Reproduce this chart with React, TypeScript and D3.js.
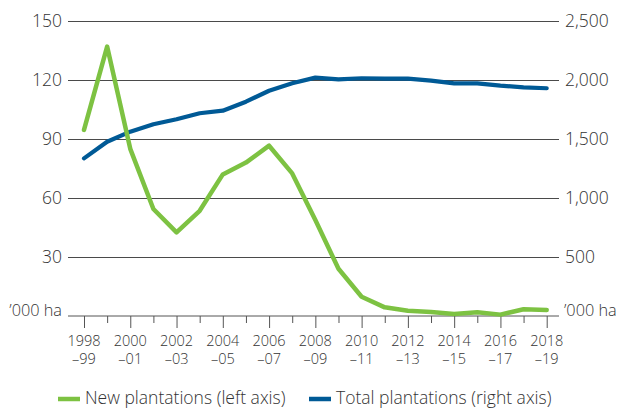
import * as d3 from 'd3';
import React, { useRef, useEffect } from 'react';

const seasons = [
  "1998", "1999", "2000", "2001", "2002", "2003", "2004", "2005", "2006", "2007",
  "2008", "2009", "2010", "2011", "2012", "2013", "2014", "2015", "2016", "2017", "2018",
];
const seasonEnds = [
  "99", "00", "01", "02", "03", "04", "05", "06", "07", "08",
  "09", "10", "11", "12", "13", "14", "15", "16", "17", "18", "19",
];
// '000 ha, left axis
const newPlantations = [
  94.6, 137, 85, 54.4, 42.5, 53.5, 72, 78, 86.6, 72.5,
  48.8, 24, 9.8, 4.4, 2.7, 2, 1, 1.9, 0.7, 3.4, 3.1,
];
// '000 ha, right axis
const totalPlantations = [
  1336, 1477, 1562, 1625, 1667, 1718, 1740, 1816, 1909, 1972,
  2020, 2006, 2015, 2011, 2011, 1995, 1972, 1972, 1952, 1938, 1930,
];
const leftTicks = [30, 60, 90, 120, 150];
const rightTicks = [500, 1000, 1500, 2000, 2500];

const GREEN = "#7dc242";
const BLUE = "#005a96";
const FONT = "'Open Sans', sans-serif";

function App() {
  const ref = useRef(null);

  useEffect(() => {
    document.body.style.margin = "0";

    const width = 618;
    const height = 408;
    const plot = { left: 68, right: 559, top: 21, bottom: 316 };

    const x = d3.scaleLinear()
      .domain([0, seasons.length - 1])
      .range([84, 546.7]);
    const yL = d3.scaleLinear().domain([0, 150]).range([plot.bottom, plot.top]);
    const yR = d3.scaleLinear().domain([0, 2500]).range([plot.bottom, plot.top]);

    const svg = d3.select(ref.current)
      .attr("viewBox", "0 0 " + width + " " + height)
      .attr("width", width)
      .attr("height", height);
    svg.selectAll("*").remove();

    // left axis + gridlines
    const gl = svg.append("g")
      .attr("transform", "translate(" + plot.left + ",0)")
      .call(d3.axisLeft(yL).tickValues(leftTicks).tickSize(-(plot.right - plot.left)).tickPadding(6));
    gl.select(".domain").remove();
    gl.selectAll(".tick line").attr("stroke", "#4a4a4a");
    gl.selectAll(".tick text")
      .attr("font-family", FONT).attr("font-size", 17.5).attr("font-weight", 300).attr("fill", "#333");

    // right axis labels
    const gr = svg.append("g")
      .attr("transform", "translate(" + plot.right + ",0)")
      .call(d3.axisRight(yR).tickValues(rightTicks).tickSize(0).tickPadding(6).tickFormat(d3.format(",")));
    gr.select(".domain").remove();
    gr.selectAll(".tick text")
      .attr("font-family", FONT).attr("font-size", 17.5).attr("font-weight", 300).attr("fill", "#333");

    // unit labels
    svg.append("text")
      .attr("x", plot.left - 6).attr("y", plot.bottom)
      .attr("text-anchor", "end")
      .attr("font-family", FONT).attr("font-size", 16.3).attr("font-weight", 300).attr("fill", "#333")
      .text("\u2019000 ha");
    svg.append("text")
      .attr("x", plot.right + 5).attr("y", plot.bottom)
      .attr("font-family", FONT).attr("font-size", 16.3).attr("font-weight", 300).attr("fill", "#333")
      .text("\u2019000 ha");

    // bottom axis
    svg.append("line")
      .attr("x1", plot.left).attr("x2", plot.right)
      .attr("y1", plot.bottom).attr("y2", plot.bottom)
      .attr("stroke", "#555");
    const gx = svg.append("g")
      .attr("transform", "translate(0," + plot.bottom + ")")
      .call(d3.axisBottom(x).tickValues(d3.range(seasons.length)).tickSize(12).tickFormat(() => ""));
    gx.select(".domain").remove();
    gx.selectAll(".tick line")
      .attr("stroke", "#555")
      .attr("y2", (d: any) => (d % 2 === 0 ? 12 : 7));
    gx.selectAll(".tick text").remove();

    const labels = svg.append("g")
      .attr("font-family", FONT).attr("font-size", 14.5).attr("font-weight", 300).attr("fill", "#333")
      .attr("text-anchor", "middle");
    seasons.forEach((s, i) => {
      if (i % 2 !== 0) return;
      const t = labels.append("text").attr("x", x(i));
      t.append("tspan").attr("x", x(i)).attr("y", 346).text(s);
      t.append("tspan").attr("x", x(i)).attr("y", 363.5).text("\u2013" + seasonEnds[i]);
    });

    // lines
    const lineTotal = d3.line<number>()
      .x((d, i) => x(i))
      .y((d) => yR(d));
    const lineNew = d3.line<number>()
      .x((d, i) => x(i))
      .y((d) => yL(d));

    svg.append("path")
      .datum(totalPlantations)
      .attr("fill", "none")
      .attr("stroke", BLUE)
      .attr("stroke-width", 4.2)
      .attr("stroke-linejoin", "round")
      .attr("stroke-linecap", "round")
      .attr("d", lineTotal);

    svg.append("path")
      .datum(newPlantations)
      .attr("fill", "none")
      .attr("stroke", GREEN)
      .attr("stroke-width", 4.5)
      .attr("stroke-linejoin", "round")
      .attr("stroke-linecap", "round")
      .attr("d", lineNew);

    // legend
    const legend = [
      { label: "New plantations (left axis)", color: GREEN, x: 58 },
      { label: "Total plantations (right axis)", color: BLUE, x: 309 },
    ];
    legend.forEach((l) => {
      svg.append("line")
        .attr("x1", l.x).attr("x2", l.x + 22)
        .attr("y1", 399).attr("y2", 399)
        .attr("stroke", l.color).attr("stroke-width", 4.5);
      svg.append("text")
        .attr("x", l.x + 27).attr("y", 403.5)
        .attr("font-family", FONT).attr("font-size", 17.5).attr("font-weight", 300).attr("fill", "#333")
        .text(l.label);
    });
  }, []);

  return <svg ref={ref} style={{ display: "block" }} />;
}

export default App;
